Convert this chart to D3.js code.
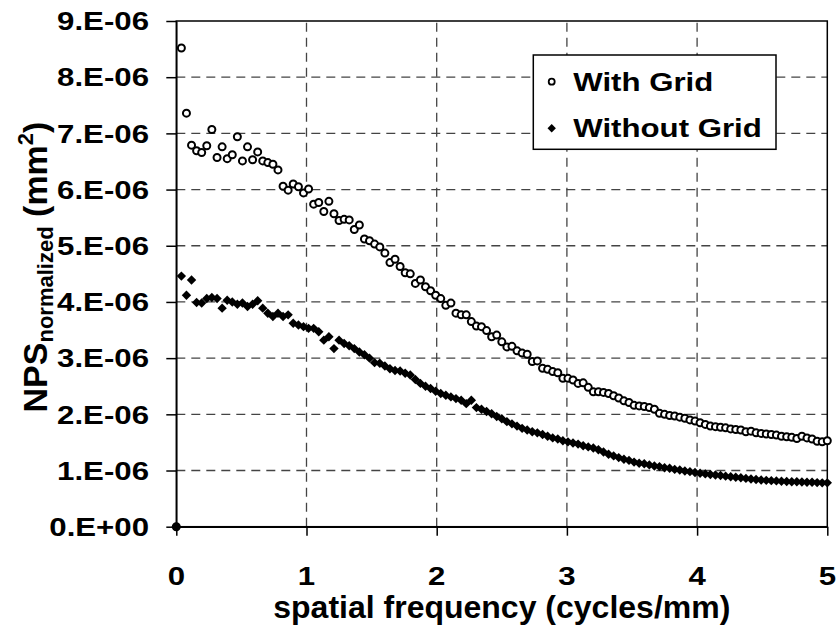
<!DOCTYPE html>
<html><head><meta charset="utf-8">
<script src="https://cdn.jsdelivr.net/npm/d3@7"></script>
<style>
html,body{margin:0;padding:0;background:#fff;}
svg{display:block;font-family:"Liberation Sans",Arial,sans-serif;font-weight:bold;}
</style></head><body>
<svg id="chart" width="839" height="628"></svg>
<script>
// spatial frequency (cycles/mm)
const frequency = [0,0.039,0.078,0.117,0.156,0.195,0.234,0.273,0.313,0.352,
0.391,0.430,0.469,0.508,0.547,0.586,0.625,0.664,0.703,0.742,
0.781,0.820,0.859,0.898,0.938,0.977,1.016,1.055,1.094,1.133,
1.172,1.211,1.250,1.289,1.328,1.367,1.406,1.445,1.484,1.523,
1.563,1.602,1.641,1.680,1.719,1.758,1.797,1.836,1.875,1.914,
1.953,1.992,2.031,2.070,2.109,2.148,2.188,2.227,2.266,2.305,
2.344,2.383,2.422,2.461,2.500,2.539,2.578,2.617,2.656,2.695,
2.734,2.773,2.813,2.852,2.891,2.930,2.969,3.008,3.047,3.086,
3.125,3.164,3.203,3.242,3.281,3.320,3.359,3.398,3.438,3.477,
3.516,3.555,3.594,3.633,3.672,3.711,3.750,3.789,3.828,3.867,
3.906,3.945,3.984,4.023,4.063,4.102,4.141,4.180,4.219,4.258,
4.297,4.336,4.375,4.414,4.453,4.492,4.531,4.570,4.609,4.648,
4.688,4.727,4.766,4.805,4.844,4.883,4.922,4.961,5.000];

// NPS values in units of 1e-6 mm^2
const withGrid = [0,
8.52,7.36,6.79,6.69,6.66,6.78,7.07,6.57,6.76,6.55,
6.62,6.94,6.51,6.76,6.53,6.67,6.51,6.48,6.45,6.35,
6.06,5.99,6.10,6.05,5.94,6.01,5.74,5.77,5.61,5.79,
5.57,5.45,5.47,5.46,5.29,5.37,5.12,5.09,5.03,4.98,
4.87,4.70,4.76,4.63,4.52,4.50,4.33,4.39,4.27,4.20,
4.12,4.06,3.94,3.98,3.80,3.77,3.77,3.65,3.57,3.56,
3.49,3.38,3.41,3.29,3.20,3.21,3.13,3.09,3.07,2.94,
2.95,2.82,2.80,2.76,2.74,2.64,2.64,2.61,2.55,2.56,
2.48,2.40,2.40,2.39,2.37,2.33,2.29,2.24,2.21,2.16,
2.15,2.14,2.12,2.09,2.02,2.00,1.98,1.97,1.95,1.93,
1.90,1.88,1.85,1.82,1.79,1.78,1.77,1.76,1.74,1.73,
1.72,1.69,1.70,1.67,1.66,1.65,1.64,1.63,1.61,1.60,
1.59,1.57,1.61,1.58,1.56,1.52,1.51,1.53];

const withoutGrid = [0,
4.46,4.12,4.39,3.99,3.98,4.06,4.08,4.06,3.89,4.03,
4.00,3.96,3.98,3.92,3.96,4.02,3.89,3.80,3.74,3.80,
3.74,3.77,3.62,3.59,3.56,3.53,3.53,3.47,3.32,3.38,
3.17,3.32,3.26,3.22,3.17,3.11,3.06,3.00,2.92,2.91,
2.86,2.81,2.78,2.77,2.73,2.70,2.62,2.55,2.50,2.46,
2.41,2.37,2.34,2.31,2.28,2.25,2.19,2.25,2.12,2.09,
2.05,2.01,1.96,1.92,1.87,1.83,1.79,1.75,1.72,1.69,
1.67,1.64,1.61,1.58,1.56,1.53,1.51,1.49,1.47,1.44,
1.42,1.40,1.37,1.33,1.29,1.26,1.23,1.20,1.18,1.15,
1.13,1.12,1.10,1.08,1.07,1.05,1.04,1.02,1.01,0.99,
0.98,0.965,0.95,0.94,0.93,0.92,0.91,0.90,0.89,0.88,
0.87,0.86,0.85,0.84,0.83,0.825,0.82,0.815,0.81,0.805,
0.80,0.80,0.795,0.79,0.79,0.785,0.78,0.78];

const xTicks = [0,1,2,3,4,5];
const yTicks = [0,1,2,3,4,5,6,7,8,9];
const yTickLabels = ["0.E+00","1.E-06","2.E-06","3.E-06","4.E-06","5.E-06","6.E-06","7.E-06","8.E-06","9.E-06"];
const seriesNames = ["With Grid","Without Grid"];
const xTitle = "spatial frequency (cycles/mm)";

const svg = d3.select("#chart");
const x = d3.scaleLinear().domain([0,5]).range([176.3,827.3]);
const y = d3.scaleLinear().domain([0,9]).range([526.7,21]);
const [x0,x1] = x.range(), [y0,y1] = y.range();

// grid lines
const grid = svg.append("g").attr("stroke","#444").attr("stroke-width",1.3).attr("stroke-dasharray","9,6");
grid.selectAll("line.h").data(yTicks.slice(1,-1)).join("line")
  .attr("x1",x0).attr("x2",x1).attr("y1",d=>y(d)).attr("y2",d=>y(d));
grid.selectAll("line.v").data(xTicks.slice(1,-1)).join("line")
  .attr("y1",y0).attr("y2",y1).attr("x1",d=>x(d)).attr("x2",d=>x(d));

// frame
svg.append("rect").attr("x",x0).attr("y",y1).attr("width",x1-x0).attr("height",y0-y1)
  .attr("fill","none").attr("stroke","#000").attr("stroke-width",1.5);

// axes (ticks)
const ax = svg.append("g").attr("transform",`translate(0,${y0})`)
  .call(d3.axisBottom(x).tickValues(xTicks).tickSize(9).tickSizeOuter(0).tickFormat(""));
const ay = svg.append("g").attr("transform",`translate(${x0},0)`)
  .call(d3.axisLeft(y).tickValues(yTicks).tickSize(10).tickSizeOuter(0).tickFormat(""));
[ax,ay].forEach(g=>{g.select(".domain").attr("stroke","#000").attr("stroke-width",1.5);
  g.selectAll(".tick line").attr("stroke","#000").attr("stroke-width",1.5);});

// tick labels
svg.append("g").selectAll("g").data(yTicks).join("g")
  .attr("transform",d=>`translate(149,${y(d)+9.2}) scale(1.2,1)`)
  .append("text").attr("text-anchor","end").attr("font-size",26).text((d,i)=>yTickLabels[i]);
svg.append("g").selectAll("g").data(xTicks).join("g")
  .attr("transform",d=>`translate(${x(d)},585) scale(1.2,1)`)
  .append("text").attr("text-anchor","middle").attr("font-size",26).text(d=>d);

// axis titles
svg.append("text").attr("x",(x0+x1)/2).attr("y",618).attr("text-anchor","middle")
  .attr("font-size",32).text(xTitle);
const yt = svg.append("text").attr("transform","translate(47,267) rotate(-90)").attr("text-anchor","middle");
yt.append("tspan").attr("font-size",34).text("NPS");
yt.append("tspan").attr("font-size",22).attr("dy",6).text("normalized");
yt.append("tspan").attr("font-size",34).attr("dy",-6).text(" (mm");
yt.append("tspan").attr("font-size",22).attr("dy",-14).text("2");
yt.append("tspan").attr("font-size",34).attr("dy",14).text(")");

// markers
const diamond = s => `M0,${-s}L${s},0L0,${s}L${-s},0Z`;
const pts = svg.append("g");
pts.selectAll("circle").data(frequency).join("circle")
  .attr("cx",d=>x(d)).attr("cy",(d,i)=>y(withGrid[i])).attr("r",3.5)
  .attr("fill","#fff").attr("stroke","#000").attr("stroke-width",2);
pts.selectAll("path").data(frequency).join("path")
  .attr("transform",(d,i)=>`translate(${x(d)},${y(withoutGrid[i])})`)
  .attr("d",diamond(4.7)).attr("fill","#000");

// legend
const lg = svg.append("g");
lg.append("rect").attr("x",533.3).attr("y",55).attr("width",242.7).attr("height",94.3)
  .attr("fill","#fff").attr("stroke","#000").attr("stroke-width",1.5);
lg.append("circle").attr("cx",551.7).attr("cy",81.7).attr("r",3).attr("fill","#fff").attr("stroke","#000").attr("stroke-width",1.8);
lg.append("path").attr("transform","translate(551.7,128.3)").attr("d",diamond(4.2)).attr("fill","#000");
seriesNames.forEach((n,i)=>{
  lg.append("g").attr("transform",`translate(573.3,${i?137.3:90.7}) scale(1.2,1)`)
    .append("text").attr("font-size",26).text(n);
});
</script>
</body></html>
